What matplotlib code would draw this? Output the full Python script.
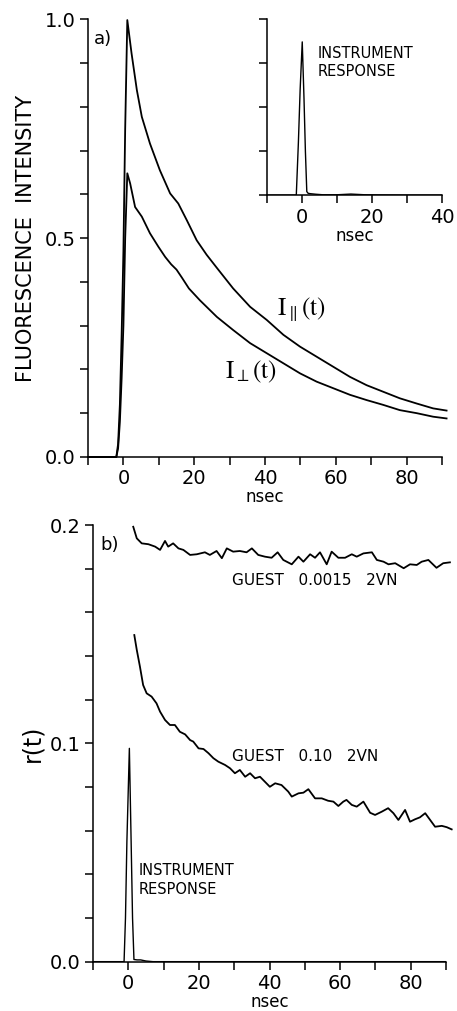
import matplotlib.pyplot as plt

# ---- data ----
# a) fluorescence decays
t_par = [-10, -2.0, -1.5, -1.0, -0.5, 0.0, 0.5, 1.1, 2.3, 3.8, 5.2, 7.5, 10.3, 13.2, 15.5,
         17.9, 20.7, 23.5, 26.4, 31.0, 35.8, 40.5, 45.2, 49.9, 54.6, 59.3, 64.0, 68.7,
         73.4, 78.1, 82.9, 87.5, 91.3]
i_par = [0, 0, 0.03, 0.12, 0.28, 0.47, 0.75, 0.998, 0.922, 0.838, 0.777, 0.716, 0.655,
         0.602, 0.579, 0.541, 0.495, 0.462, 0.432, 0.385, 0.343, 0.313, 0.279, 0.252,
         0.229, 0.206, 0.183, 0.164, 0.149, 0.134, 0.122, 0.111, 0.106]

t_perp = [-10, -2.0, -1.5, -1.0, -0.5, 0.0, 0.5, 1.1, 1.9, 3.3, 5.2, 7.5, 9.9, 11.8, 13.5,
          15.0, 16.5, 18.5, 21.6, 26.4, 31.0, 35.8, 40.5, 45.2, 49.9, 54.6, 59.3, 64.0,
          68.7, 73.4, 78.1, 82.9, 87.5, 91.3]
i_perp = [0, 0, 0.02, 0.08, 0.18, 0.30, 0.50, 0.648, 0.625, 0.571, 0.549, 0.511, 0.480,
          0.457, 0.440, 0.428, 0.410, 0.385, 0.358, 0.320, 0.290, 0.260, 0.237, 0.214,
          0.191, 0.172, 0.157, 0.142, 0.130, 0.119, 0.107, 0.100, 0.092, 0.088]

# inset: instrument response
t_irf_a = [-10, -1.6, -1.0, -0.5, 0.1, 0.6, 1.0, 1.4, 1.8, 2.5, 4, 6, 10, 12, 14, 16, 18,
           22, 30, 40]
irf_a = [0, 0, 0.30, 0.60, 0.871, 0.55, 0.25, 0.02, 0.01, 0.008, 0.005, 0.002, 0.002,
         0.004, 0.006, 0.004, 0.002, 0.001, 0, 0]

# b) anisotropy r(t)
t_r1 = [1.4, 2.4, 3.8, 5.7, 7.6, 9.0, 10.4, 11.3, 12.7, 14.2, 15.6, 17.5, 19.4, 21.7,
        23.1, 25.0, 26.5, 27.9, 29.7, 31.6, 33.5, 35.0, 36.8, 38.7, 40.6, 42.3, 43.9,
        46.3, 48.2, 49.6, 51.5, 52.9, 54.3, 56.2, 57.6, 59.5, 61.4, 63.3, 64.7, 66.6,
        69.0, 70.4, 72.3, 73.7, 75.6, 78.0, 79.8, 81.7, 83.1, 85.0, 87.3, 89.2, 91.1]
r1 = [0.1992, 0.1939, 0.1916, 0.1912, 0.1901, 0.1886, 0.1927, 0.1901, 0.1916, 0.1893,
      0.1886, 0.1863, 0.1866, 0.1875, 0.1863, 0.1881, 0.1848, 0.1893, 0.1878, 0.1881,
      0.1875, 0.1893, 0.1863, 0.1855, 0.1850, 0.1875, 0.1840, 0.1820, 0.1855, 0.1832,
      0.1866, 0.1850, 0.1875, 0.1820, 0.1878, 0.1850, 0.1850, 0.1866, 0.1855, 0.1870,
      0.1875, 0.1840, 0.1832, 0.1820, 0.1825, 0.1802, 0.1820, 0.1817, 0.1832, 0.1840,
      0.1804, 0.1825, 0.1829]

t_r2 = [1.7, 2.4, 3.3, 4.2, 5.2, 6.6, 8.0, 9.0, 10.4, 11.8, 13.2, 14.6, 16.1, 17.5, 18.4,
        19.9, 21.3, 22.7, 24.1, 25.5, 27.4, 28.8, 30.2, 31.6, 33.1, 34.5, 35.9, 37.3,
        38.7, 40.1, 41.6, 43.4, 45.3, 46.3, 48.2, 49.6, 51.0, 52.9, 54.8, 56.6, 58.1,
        59.5, 60.9, 61.8, 63.3, 64.7, 66.6, 68.5, 69.9, 71.8, 73.6, 75.1, 76.5, 78.4,
        79.8, 81.2, 82.6, 84.1, 85.5, 86.9, 88.8, 90.2, 91.6]
r2 = [0.1496, 0.1428, 0.1351, 0.1267, 0.1229, 0.1214, 0.1183, 0.1145, 0.1107, 0.1084,
      0.1084, 0.1053, 0.1041, 0.1015, 0.1008, 0.0977, 0.0974, 0.0955, 0.0932, 0.0916,
      0.0901, 0.0886, 0.0863, 0.0878, 0.0847, 0.0863, 0.0840, 0.0847, 0.0824, 0.0801,
      0.0817, 0.0809, 0.0779, 0.0756, 0.0771, 0.0774, 0.0790, 0.0748, 0.0748, 0.0737,
      0.0733, 0.0713, 0.0733, 0.0741, 0.0718, 0.0710, 0.0733, 0.0682, 0.0672, 0.0687,
      0.0703, 0.0680, 0.0649, 0.0695, 0.0641, 0.0652, 0.0661, 0.0680, 0.0649, 0.0618,
      0.0622, 0.0616, 0.0606]

t_irf_b = [-10, -1.2, -0.8, -0.4, 0.3, 0.8, 1.2, 1.6, 2.5, 3.5, 5, 7, 90]
irf_b = [0, 0, 0.02, 0.055, 0.0977, 0.055, 0.02, 0.001, 0.0008, 0.0008, 0.0003, 0, 0]

plt.rcParams['font.family'] = 'DejaVu Sans'
plt.rcParams['mathtext.fontset'] = 'stix'

LW = 1.3
TICK = dict(length=6, width=1.1, direction='out')


def style(ax, xmaj, xmin, ymaj, ymin, ylabels=True, fs=14):
    for s in ('top', 'right'):
        ax.spines[s].set_visible(False)
    for s in ('left', 'bottom'):
        ax.spines[s].set_linewidth(1.1)
    ax.set_xticks(xmaj)
    ax.set_xticks(xmin, minor=True)
    ax.set_yticks(ymaj)
    ax.set_yticks(ymin, minor=True)
    ax.tick_params(which='both', **TICK)
    ax.tick_params(axis='x', which='major', labelsize=fs, pad=3)
    ax.tick_params(axis='y', which='major', labelsize=fs, pad=3,
                   labelleft=ylabels)
    ax.set_xlabel('nsec', fontsize=12, labelpad=0)


fig = plt.figure(figsize=(4.57, 10.11), dpi=100)

# ---- panel a ----
ax1 = fig.add_axes([0.1926, 0.548, 0.7745, 0.433])
ax1.plot(t_par, i_par, color='black', lw=LW, clip_on=False)
ax1.plot(t_perp, i_perp, color='black', lw=LW, clip_on=False)
ax1.set_xlim(-10, 90)
ax1.set_ylim(0, 1.0)
style(ax1, [0, 20, 40, 60, 80], [-10, 10, 30, 50, 70, 90],
      [0.0, 0.5, 1.0], [0.1, 0.2, 0.3, 0.4, 0.6, 0.7, 0.8, 0.9])
ax1.yaxis.set_major_formatter(plt.FormatStrFormatter('%.1f'))
ax1.set_ylabel('FLUORESCENCE  INTENSITY', fontsize=15, labelpad=6)
ax1.text(-5.8, 0.955, 'a)', fontsize=13, ha='center', va='center')
ax1.text(50.2, 0.335, r'$\mathrm{I_{\parallel}(t)}$', fontsize=18,
         ha='center', va='center')
ax1.text(36.0, 0.195, r'$\mathrm{I_{\perp}(t)}$', fontsize=18,
         ha='center', va='center')

# inset
ax_in = fig.add_axes([0.584, 0.807, 0.383, 0.174])
ax_in.patch.set_alpha(0)
ax_in.plot(t_irf_a, irf_a, color='black', lw=1.0)
ax_in.set_xlim(-10, 40)
ax_in.set_ylim(0, 1.0)
style(ax_in, [0, 20, 40], [-10, 10, 30], [0, 0.25, 0.5, 0.75, 1.0], [],
      ylabels=False)
ax_in.text(4.6, 0.85, 'INSTRUMENT\nRESPONSE', fontsize=10.5, ha='left', va='top',
           linespacing=1.3)

# ---- panel b ----
ax2 = fig.add_axes([0.2035, 0.0488, 0.7725, 0.4319])
ax2.plot(t_r1, r1, color='black', lw=LW, clip_on=False)
ax2.plot(t_r2, r2, color='black', lw=LW, clip_on=False)
ax2.plot(t_irf_b, irf_b, color='black', lw=1.0)
ax2.set_xlim(-10, 90)
ax2.set_ylim(0, 0.2)
style(ax2, [0, 20, 40, 60, 80], [-10, 10, 30, 50, 70, 90],
      [0.0, 0.1, 0.2], [0.02, 0.04, 0.06, 0.08, 0.12, 0.14, 0.16, 0.18])
ax2.set_yticklabels(['0.0', '0.1', '0.2'])
ax2.set_ylabel('r(t)', fontsize=17, labelpad=4)
ax2.text(-5.3, 0.1908, 'b)', fontsize=13, ha='center', va='center')
ax2.text(29.5, 0.1744, 'GUEST   0.0015   2VN', fontsize=11, ha='left',
         va='center')
ax2.text(29.5, 0.0942, 'GUEST   0.10   2VN', fontsize=11, ha='left',
         va='center')
ax2.text(2.8, 0.0450, 'INSTRUMENT\nRESPONSE', fontsize=10.5, ha='left', va='top',
         linespacing=1.3)

fig.savefig('out.png', dpi=100)
